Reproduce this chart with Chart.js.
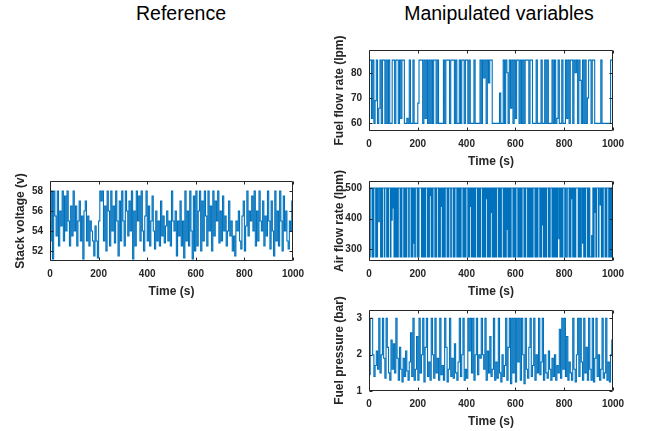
<!DOCTYPE html>
<html>
<head>
<meta charset="utf-8">
<script src="https://cdn.jsdelivr.net/npm/chart.js@4.4.0/dist/chart.umd.min.js"></script>
<style>
  body { margin: 0; background: #fff; }
  #fig { position: relative; width: 645px; height: 431px; overflow: hidden; font-family: "Liberation Sans", Arial, sans-serif; }
  .ttl { position: absolute; top: 2px; font-size: 19.5px; color: #000; transform: translateX(-50%); white-space: nowrap; }
  canvas { position: absolute; }
</style>
</head>
<body>
<div id="fig">
  <div class="ttl" style="left:181px">Reference</div>
  <div class="ttl" style="left:499px">Manipulated variables</div>
  <canvas id="stackChart"></canvas>
  <canvas id="fuelChart"></canvas>
  <canvas id="airChart"></canvas>
  <canvas id="pressureChart"></canvas>
</div>
<script>
// sampling periods of the logged signals (s)
const samplePeriod = 5;
const airSamplePeriod = 2.5;
const timeS = Array.from({ length: 201 }, (_, i) => i * samplePeriod);
const airTimeS = Array.from({ length: 401 }, (_, i) => i * airSamplePeriod);

const xTicks = [0, 200, 400, 600, 800, 1000];

// stack voltage (v)
const stackVoltage = [
  53, 58, 51.2, 58, 55.5, 53.5, 58, 52.5, 56, 54.5, 58, 53, 57.5, 54, 58, 55, 52.5, 56.5, 53.5, 58,
  54, 56.5, 52.5, 55, 57, 53, 55.5, 51.2, 56, 57, 53, 55.5, 52.5, 55, 54, 53, 51.5, 54.5, 53, 51.3,
  55, 58, 57, 58, 53, 56.5, 52, 58, 56, 52.5, 58, 54, 56.5, 52.8, 58, 55, 51.5, 57, 53, 58,
  55, 52.5, 58, 56, 53.5, 57, 54, 58, 51.2, 56, 52.5, 58, 55, 57.5, 53, 58, 54, 52, 55.5, 58,
  53, 56.5, 52.5, 55, 57.5, 54, 52.2, 56, 53, 55, 52.5, 57, 53.5, 55.5, 52.8, 54.5, 56, 53, 55, 52.5,
  58, 55, 54, 56, 51.5, 55, 53.5, 57, 52.5, 55, 51.3, 58, 53, 56, 52.5, 58, 54, 51.2, 57.5, 52,
  58, 52.5, 56, 58, 52, 57, 53, 58, 55.5, 52.5, 58, 54, 56.5, 52, 58, 53.5, 57, 55, 58, 52.8,
  56, 53, 57.5, 54, 55.5, 52.5, 54, 57, 53.5, 55, 52, 53.5, 51.5, 55, 54, 56, 53, 52.2, 55.5, 57,
  52, 54.5, 58, 53.5, 56, 55, 57.5, 54, 58, 52.5, 56, 53, 58, 55, 54, 57, 52.5, 55.5, 53.5, 58,
  55, 52.2, 57, 54, 51.5, 58, 53, 56, 52.5, 58, 55, 52, 57.5, 54, 56, 53, 52.2, 55, 54, 57,
  57
];

// fuel flow rate (lpm)
const fuelFlow = [
  85, 85, 62, 85, 60, 69, 85, 60, 66, 85, 60, 85, 85, 60, 85, 60, 85, 60, 60, 85,
  85, 60, 85, 85, 60, 85, 62, 85, 85, 60, 60, 62, 60, 85, 60, 60, 85, 60, 60, 60,
  68, 85, 85, 85, 60, 85, 62, 85, 60, 85, 60, 85, 60, 85, 85, 60, 85, 60, 60, 60,
  60, 85, 60, 85, 85, 85, 60, 85, 85, 85, 60, 85, 60, 60, 85, 60, 85, 85, 60, 85,
  85, 60, 85, 60, 60, 60, 85, 60, 60, 60, 60, 85, 60, 85, 78, 85, 60, 85, 76, 85,
  85, 60, 60, 60, 60, 60, 60, 72, 60, 60, 85, 60, 85, 80, 60, 85, 66, 85, 60, 85,
  62, 85, 85, 60, 85, 60, 85, 60, 85, 85, 85, 60, 85, 85, 60, 60, 60, 85, 60, 60,
  60, 85, 60, 60, 85, 60, 85, 60, 60, 60, 85, 60, 85, 60, 62, 85, 60, 60, 85, 60,
  60, 85, 62, 85, 60, 85, 85, 60, 85, 80, 85, 60, 85, 77, 60, 85, 60, 85, 60, 70,
  85, 85, 60, 85, 85, 60, 60, 60, 60, 60, 85, 60, 60, 60, 60, 60, 60, 60, 85, 85,
  67
];

// air flow rate (lpm), 2.5 s samples
const airFlow = [
  500, 275, 500, 500, 500, 275, 500, 275, 500, 500, 500, 275, 500, 275, 500, 500, 390, 500, 500, 275,
  500, 275, 500, 500, 500, 275, 500, 500, 500, 275, 500, 275, 500, 500, 500, 275, 500, 395, 500, 435,
  500, 275, 500, 275, 500, 275, 500, 275, 500, 500, 500, 275, 500, 275, 500, 500, 500, 275, 500, 275,
  500, 275, 500, 500, 500, 275, 500, 500, 500, 275, 500, 275, 500, 320, 500, 275, 500, 500, 500, 275,
  500, 275, 500, 500, 500, 500, 275, 500, 275, 500, 275, 500, 275, 500, 500, 500, 275, 500, 275, 500,
  475, 500, 275, 500, 275, 500, 500, 500, 275, 500, 275, 500, 500, 500, 275, 500, 275, 500, 440, 500,
  275, 500, 275, 500, 275, 500, 500, 500, 275, 500, 275, 500, 500, 500, 275, 500, 500, 500, 275, 500,
  275, 500, 500, 500, 275, 500, 275, 500, 275, 500, 275, 500, 500, 500, 275, 500, 275, 500, 275, 500,
  500, 500, 275, 500, 275, 500, 440, 500, 275, 500, 275, 500, 275, 500, 275, 500, 500, 500, 275, 500,
  275, 500, 275, 500, 500, 500, 275, 500, 275, 500, 275, 500, 465, 500, 275, 500, 275, 500, 275, 500,
  420, 500, 275, 500, 275, 500, 275, 500, 275, 500, 500, 500, 275, 500, 275, 500, 275, 500, 500, 500,
  275, 500, 275, 500, 275, 500, 365, 500, 275, 500, 275, 500, 275, 500, 500, 500, 275, 500, 275, 500,
  275, 500, 500, 500, 275, 500, 275, 500, 275, 500, 275, 500, 500, 500, 275, 500, 275, 500, 500, 500,
  275, 500, 275, 500, 275, 500, 275, 500, 275, 500, 500, 500, 275, 500, 275, 500, 275, 500, 500, 500,
  275, 500, 275, 500, 380, 500, 275, 500, 275, 500, 275, 500, 500, 500, 275, 500, 275, 500, 500, 500,
  275, 500, 275, 500, 275, 500, 275, 500, 275, 500, 500, 335, 500, 275, 500, 275, 500, 275, 500, 500,
  500, 275, 500, 275, 275, 500, 500, 500, 275, 500, 275, 500, 465, 500, 275, 500, 275, 500, 275, 500,
  500, 500, 500, 275, 500, 275, 500, 275, 500, 500, 320, 500, 275, 500, 275, 500, 500, 500, 275, 500,
  275, 500, 275, 275, 275, 345, 275, 500, 275, 500, 420, 500, 275, 500, 500, 500, 275, 500, 500, 445,
  500, 275, 500, 275, 500, 500, 500, 275, 500, 275, 500, 500, 500, 275, 500, 275, 500, 275, 500, 410,
  410
];

// fuel pressure (bar)
const fuelPressure = [
  1.45, 3, 3, 2.0, 1.4, 1.7, 2.1, 1.6, 3, 1.5, 2.0, 3, 1.9, 1.35, 3, 2.2, 1.5, 1.3, 2.4, 1.6,
  2.3, 1.5, 3, 1.9, 1.3, 2.2, 1.6, 1.25, 1.9, 1.4, 2.1, 1.55, 1.3, 1.8, 2.6, 1.4, 3, 1.3, 1.6, 2.5,
  1.3, 3, 1.5, 2.0, 3, 1.25, 2.2, 3, 1.4, 1.8, 1.3, 3, 2.0, 1.35, 3, 1.5, 1.9, 1.3, 3, 1.45,
  1.7, 1.3, 3, 2.2, 1.25, 1.6, 3, 1.4, 1.9, 1.35, 2.3, 1.5, 1.3, 1.8, 3, 1.4, 2.0, 3, 1.3, 1.6,
  1.35, 3, 2.1, 3, 1.5, 3, 1.3, 2.0, 3, 1.45, 2.0, 1.9, 3, 2.0, 1.6, 3, 1.3, 2.1, 1.5, 2.5,
  1.4, 1.6, 3, 1.3, 1.8, 1.35, 3, 1.5, 1.25, 2.0, 1.4, 1.7, 3, 1.3, 2.2, 3, 1.2, 3, 1.5, 3,
  1.25, 3, 1.8, 3, 1.3, 3, 2.0, 1.2, 3, 1.6, 1.35, 2.2, 3, 1.4, 1.7, 3, 1.3, 2.0, 1.5, 3,
  1.45, 1.8, 3, 1.3, 2.0, 1.5, 1.35, 2.1, 1.6, 1.3, 1.9, 1.4, 2.0, 1.3, 1.7, 1.5, 2.7, 1.35, 3, 1.6,
  3, 1.4, 2.5, 1.3, 1.8, 1.5, 1.3, 3, 1.6, 1.25, 2.0, 3, 1.4, 3, 1.8, 1.3, 3, 1.5, 2.2, 1.3,
  3, 1.6, 1.3, 3, 1.25, 1.9, 3, 1.4, 2.0, 1.3, 1.6, 3, 1.35, 1.5, 3, 1.3, 1.8, 1.25, 2.0, 2.4,
  2.4
];

const stackTicks = [52, 54, 56, 58];
const fuelTicks = [60, 70, 80];
const airTicks = [300, 400, 500];
const pressureTicks = [1, 2, 3];

const fontFamily = '"Liberation Sans", Arial, sans-serif';
const axisColor = '#262626';
const lineColor = '#0072BD';

// axes box with inward tick marks on all four sides
const boxAxes = {
  id: 'boxAxes',
  afterDatasetsDraw(chart) {
    const { ctx, chartArea: a, scales: { x, y } } = chart;
    const L = a.left + 0.5, R = a.right - 0.5, T = a.top + 0.5, B = a.bottom - 0.5;
    const len = 3;
    ctx.save();
    ctx.strokeStyle = axisColor;
    ctx.lineWidth = 1;
    ctx.beginPath();
    ctx.rect(L, T, R - L, B - T);
    x.ticks.forEach(t => {
      const px = Math.round(x.getPixelForValue(t.value)) + 0.5;
      ctx.moveTo(px, B); ctx.lineTo(px, B - len);
      ctx.moveTo(px, T); ctx.lineTo(px, T + len);
    });
    y.ticks.forEach(t => {
      const py = Math.round(y.getPixelForValue(t.value)) + 0.5;
      ctx.moveTo(L, py); ctx.lineTo(L + len, py);
      ctx.moveTo(R, py); ctx.lineTo(R - len, py);
    });
    ctx.stroke();
    ctx.restore();
  }
};

const Y_AXIS_W = 37, X_AXIS_H = 38, PAD_TOP = 20, PAD_RIGHT = 25;

function makePanel(id, box, times, values, yMin, yMax, yTicks, yTitle) {
  const cv = document.getElementById(id);
  const W = box.w + Y_AXIS_W + PAD_RIGHT, H = box.h + PAD_TOP + X_AXIS_H;
  cv.width = W; cv.height = H;
  cv.style.left = (box.left - Y_AXIS_W) + 'px';
  cv.style.top = (box.top - PAD_TOP) + 'px';
  cv.style.width = W + 'px';
  cv.style.height = H + 'px';

  const tickFont = { family: fontFamily, size: 10, weight: 'bold' };
  const titleFont = { family: fontFamily, size: 12, weight: 'bold' };

  return new Chart(cv, {
    type: 'line',
    data: {
      labels: times,
      datasets: [{
        data: values,
        borderColor: lineColor,
        borderWidth: 1.1,
        pointRadius: 0,
        stepped: true,
        fill: false
      }]
    },
    options: {
      responsive: false,
      animation: false,
      devicePixelRatio: 1,
      layout: { padding: { left: 0, top: PAD_TOP, right: PAD_RIGHT, bottom: 0 } },
      plugins: { legend: { display: false }, tooltip: { enabled: false } },
      scales: {
        x: {
          type: 'linear', min: 0, max: 1000, bounds: 'data',
          grid: { display: false, drawTicks: false },
          border: { display: false },
          afterBuildTicks: s => { s.ticks = xTicks.map(v => ({ value: v })); },
          afterFit: s => { s.height = X_AXIS_H; },
          ticks: { padding: 7, color: axisColor, font: tickFont, maxRotation: 0, autoSkip: false, callback: v => String(v) },
          title: { display: true, text: 'Time (s)', padding: 0, color: axisColor, font: titleFont }
        },
        y: {
          type: 'linear', min: yMin, max: yMax, bounds: 'data',
          grid: { display: false, drawTicks: false },
          border: { display: false },
          afterBuildTicks: s => { s.ticks = yTicks.map(v => ({ value: v })); },
          afterFit: s => { s.width = Y_AXIS_W; },
          ticks: { padding: 7, color: axisColor, font: tickFont, autoSkip: false, callback: v => String(v) },
          title: { display: true, text: yTitle, padding: 0, color: axisColor, font: titleFont }
        }
      }
    },
    plugins: [boxAxes]
  });
}

makePanel('stackChart', { left: 50, top: 181, w: 243, h: 80 }, timeS, stackVoltage, 51, 59, stackTicks, 'Stack voltage (v)');
makePanel('fuelChart', { left: 369, top: 50, w: 244, h: 81 }, timeS, fuelFlow, 57, 89, fuelTicks, 'Fuel flow rate (lpm)');
makePanel('airChart', { left: 369, top: 181, w: 244, h: 80 }, airTimeS, airFlow, 262, 523, airTicks, 'Air flow rate (lpm)');
makePanel('pressureChart', { left: 369, top: 310, w: 244, h: 81 }, timeS, fuelPressure, 1, 3.23, pressureTicks, 'Fuel pressure (bar)');
</script>
</body>
</html>
